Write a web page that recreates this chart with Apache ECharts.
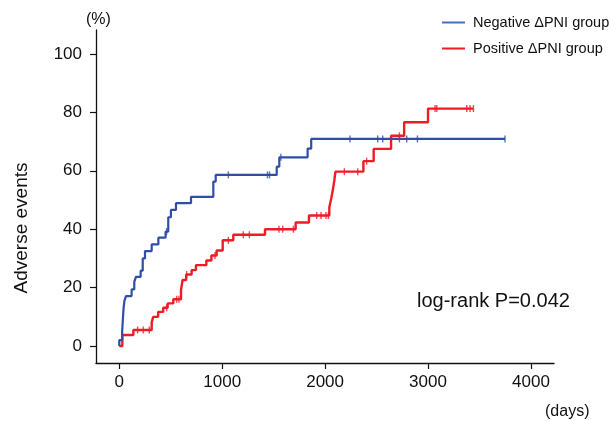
<!DOCTYPE html>
<html>
<head>
<meta charset="utf-8">
<script src="https://cdn.jsdelivr.net/npm/echarts@6/dist/echarts.min.js"></script>
<style>
html,body{margin:0;padding:0;background:#fff;}
#chart{width:613px;height:421px;}
</style>
</head>
<body>
<div id="chart"></div>
<script>
// Negative ΔPNI group: event times (days) and cumulative adverse events (%)
const negTimes = [0, 0, 28, 35, 42, 50, 65, 120, 146, 162, 208, 228, 250, 315, 380, 450, 476, 502, 551, 697, 914, 937, 1530, 1555, 1830, 1865, 3748];
const negRates = [0, 2, 5, 9, 13, 15.5, 17.1, 19.4, 22.0, 23.7, 25.8, 30.0, 32.5, 34.8, 37.1, 39.2, 44.1, 46.6, 48.9, 51.1, 56.3, 58.6, 61.4, 64.6, 67.6, 70.9, 70.9];
const negCensorTimes = [460, 1060, 1440, 1460, 1570, 2242, 2511, 2560, 2722, 2793, 2897, 3748];
const negCensorRates = [39.2, 58.6, 58.6, 58.6, 64.6, 70.9, 70.9, 70.9, 70.9, 70.9, 70.9, 70.9];

// Positive ΔPNI group
const posTimes = [0, 30, 137, 315, 330, 378, 427, 470, 525, 600, 615, 650, 703, 745, 846, 895, 946, 1005, 1108, 1416, 1714, 1843, 2041, 2060, 2075, 2090, 2100, 2372, 2472, 2641, 2768, 3000, 3441];
const posRates = [0, 3.8, 5.5, 8.1, 10.0, 11.7, 13.1, 14.6, 16.0, 19.2, 22.6, 24.5, 26.0, 27.7, 29.3, 31.0, 32.7, 36.2, 38.1, 40.0, 42.3, 44.7, 47.5, 50.6, 53.4, 56.8, 59.7, 63.3, 67.5, 72.0, 76.6, 81.3, 81.3];
const posCensorTimes = [178, 233, 292, 460, 558, 580, 655, 930, 1060, 1205, 1264, 1552, 1588, 1692, 1918, 1960, 2009, 2032, 2187, 2317, 2404, 2722, 3068, 3085, 3376, 3408, 3441];
const posCensorRates = [5.5, 5.5, 5.5, 13.1, 16.0, 16.0, 24.5, 31.0, 36.2, 38.1, 38.1, 40.0, 40.0, 40.0, 44.7, 44.7, 44.7, 44.7, 59.7, 59.7, 63.3, 72.0, 81.3, 81.3, 81.3, 81.3, 81.3];

const xTicks = [0, 1000, 2000, 3000, 4000];
const yTicks = [0, 20, 40, 60, 80, 100];
const seriesNames = ['Negative ΔPNI group', 'Positive ΔPNI group'];

const BLUE = '#2f4ea8';
const RED = '#ee1c25';
const FONT = 'Liberation Sans, Arial, sans-serif';

function pairs(xs, ys){ return xs.map((x,i)=>[x, ys[i]]); }

const chart = echarts.init(document.getElementById('chart'), null, {renderer:'canvas'});
chart.setOption({
  animation: false,
  backgroundColor: '#fff',
  grid: {left: 96, right: 59, top: 30, bottom: 58},
  xAxis: {
    type: 'value', min: -226, max: 4224,
    splitLine: {show: false},
    axisLine: {onZero: false, lineStyle: {color: '#111', width: 1.3}},
    axisTick: {show: true, length: 6, customValues: xTicks, lineStyle: {color: '#111', width: 1.2}},
    axisLabel: {customValues: xTicks, formatter: v => String(v), color: '#111', fontSize: 17, fontFamily: FONT, margin: 11}
  },
  yAxis: {
    type: 'value', min: -5.8, max: 108.2,
    splitLine: {show: false},
    axisLine: {show: true, onZero: false, lineStyle: {color: '#111', width: 1.3}},
    axisTick: {show: true, length: 6, customValues: yTicks, lineStyle: {color: '#111', width: 1.2}},
    axisLabel: {customValues: yTicks, formatter: v => String(v), color: '#111', fontSize: 17, fontFamily: FONT, margin: 14}
  },
  legend: [
    {data: [{name: seriesNames[0], itemStyle: {color: '#4470c2'}}], left: 437, top: 10, icon: 'rect', itemWidth: 23, itemHeight: 2,
     textStyle: {fontSize: 14.5, fontFamily: FONT, color: '#111', padding: [0,0,0,3]}, selectedMode: false},
    {data: [{name: seriesNames[1], itemStyle: {color: RED}}], left: 437, top: 36, icon: 'rect', itemWidth: 23, itemHeight: 2,
     textStyle: {fontSize: 14.5, fontFamily: FONT, color: '#111', padding: [0,0,0,3]}, selectedMode: false}
  ],
  graphic: [
    {type: 'text', left: 86, top: 12, style: {text: '(%)', font: '16px ' + FONT, fill: '#111'}},
    {type: 'text', left: 545, top: 404, style: {text: '(days)', font: '16px ' + FONT, fill: '#111'}},
    {type: 'text', x: 22, y: 228, rotation: Math.PI/2,
     style: {text: 'Adverse events', font: '19px ' + FONT, fill: '#111', align: 'center', verticalAlign: 'middle'}},
    {type: 'text', left: 417, top: 291, style: {text: 'log-rank P=0.042', font: '20px ' + FONT, fill: '#111'}}
  ],
  series: [
    {name: seriesNames[0], type: 'line', step: 'end', showSymbol: false, data: pairs(negTimes, negRates),
     lineStyle: {color: BLUE, width: 2.2}, itemStyle: {color: BLUE}, z: 3},
    {name: seriesNames[1], type: 'line', step: 'end', showSymbol: false, data: pairs(posTimes, posRates),
     lineStyle: {color: RED, width: 2.4}, itemStyle: {color: RED}, z: 2},
    {name: 'negCensor', type: 'scatter', data: pairs(negCensorTimes, negCensorRates), symbol: 'rect', symbolSize: [1.4, 7],
     itemStyle: {color: BLUE}, z: 4},
    {name: 'posCensor', type: 'scatter', data: pairs(posCensorTimes, posCensorRates), symbol: 'rect', symbolSize: [1.4, 7],
     itemStyle: {color: RED}, z: 4}
  ]
});
</script>
</body>
</html>
